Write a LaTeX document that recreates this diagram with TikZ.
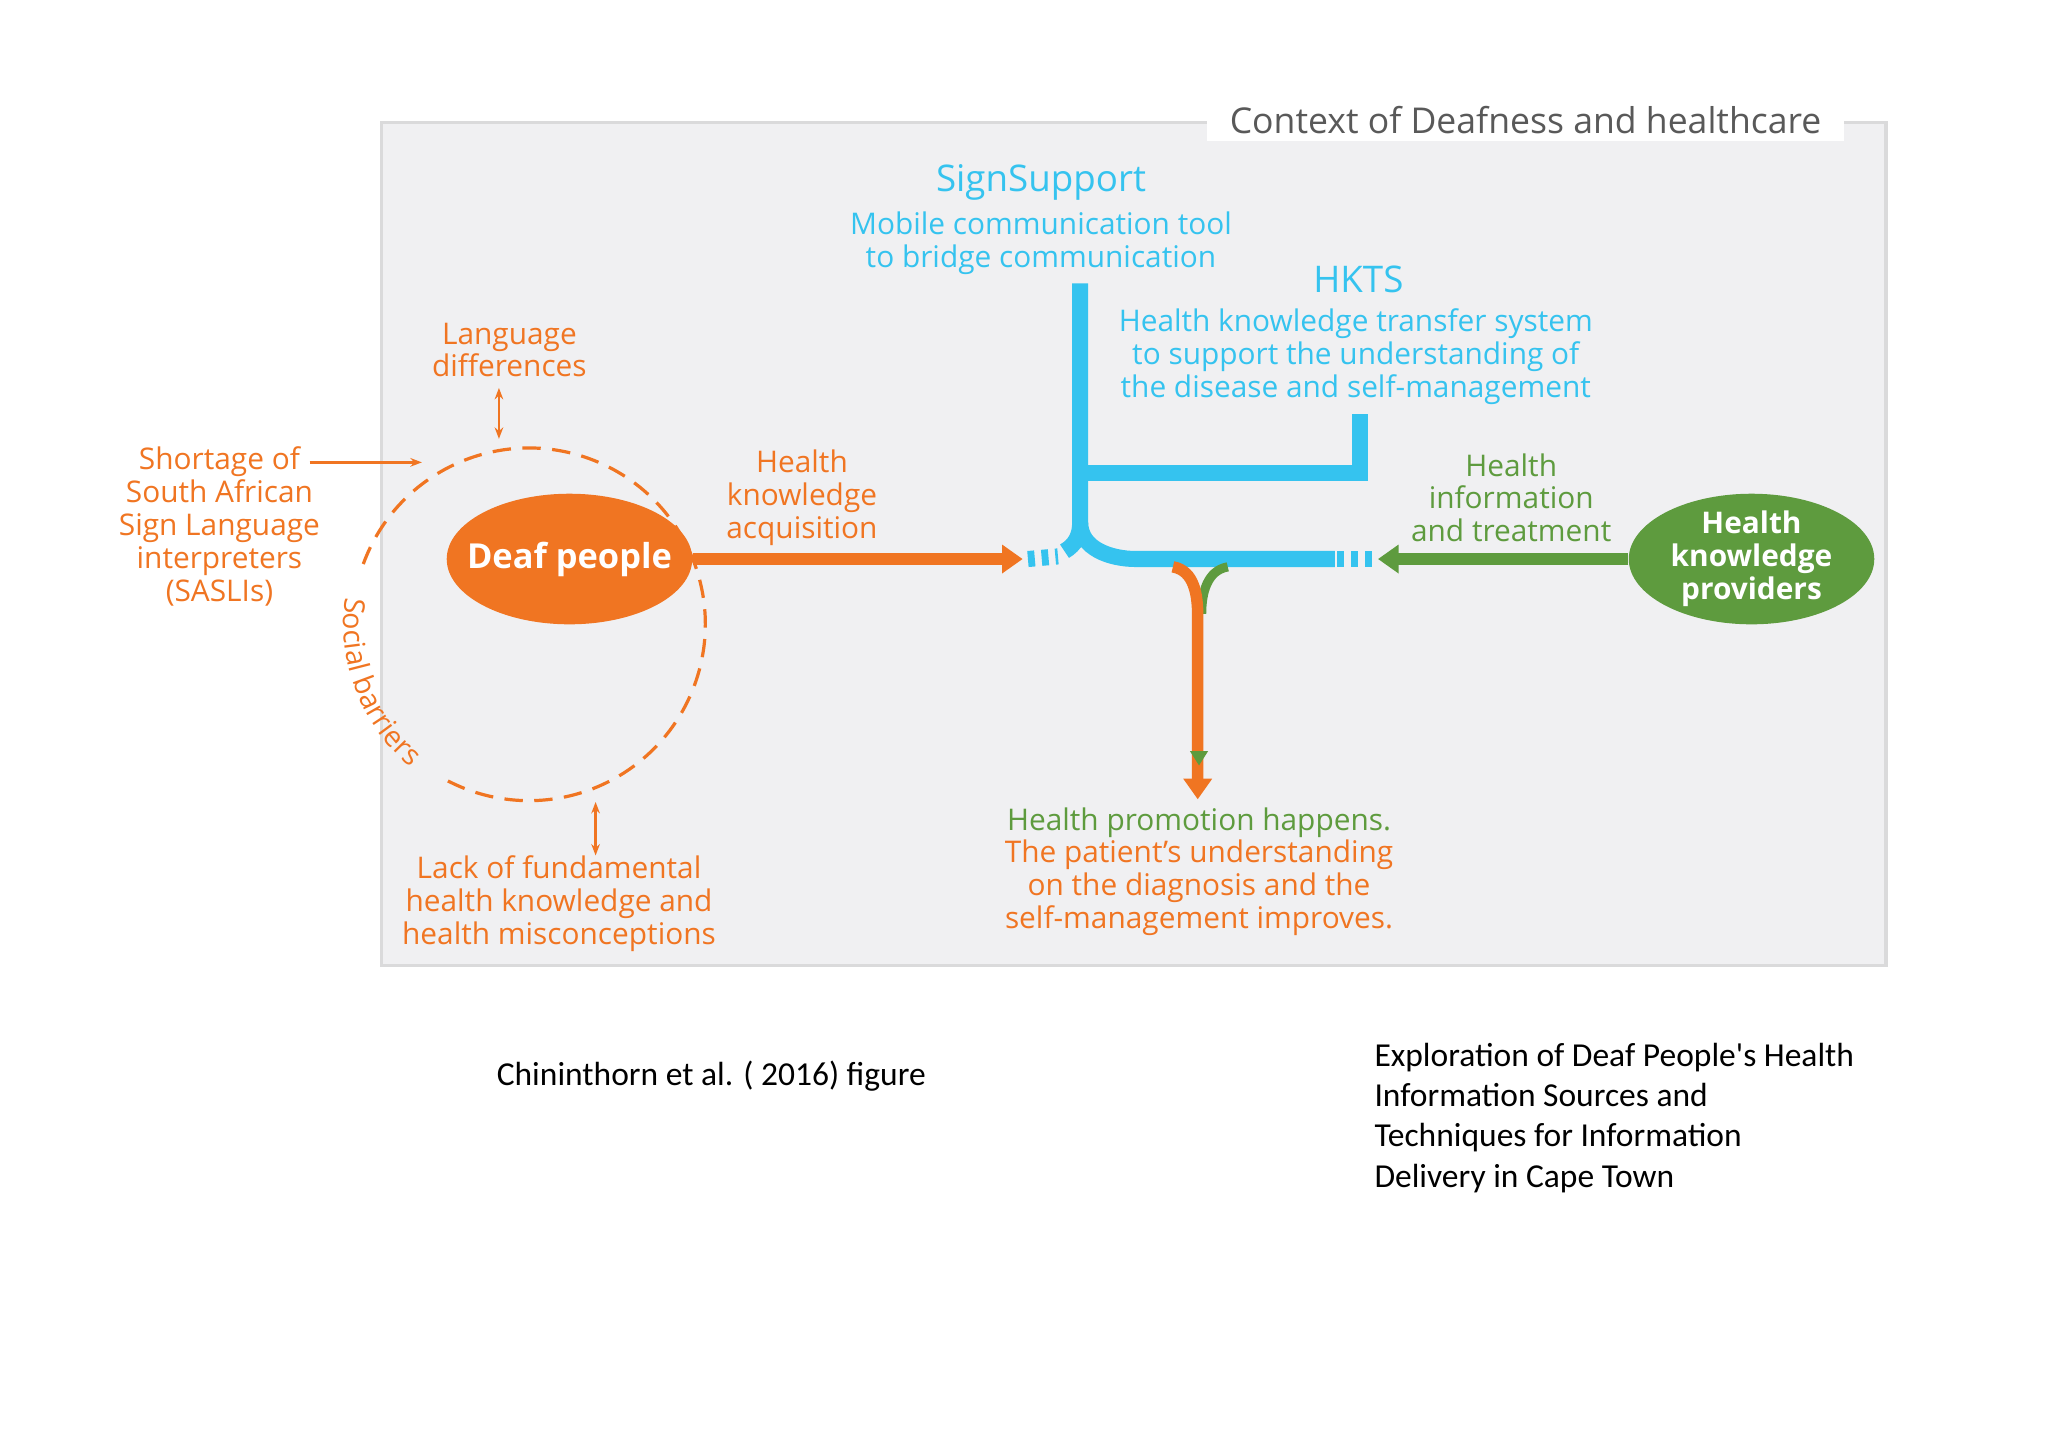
\documentclass[tikz,border=0pt]{standalone}
\usepackage{fontspec}
\setmainfont{Open Sans}
\newfontfamily\capfont{Carlito}
\usetikzlibrary{decorations.text,arrows.meta,shapes.geometric}
\definecolor{dorange}{HTML}{F07522}
\definecolor{dgreen}{HTML}{5E9B3E}
\definecolor{dcyan}{HTML}{35C3EF}
\definecolor{boxgray}{HTML}{F0F0F2}
\begin{document}
\begin{tikzpicture}[x=0.02cm,y=0.02cm,
  txt/.style={align=center,font=\fontsize{13}{14.3}\selectfont,inner sep=0pt},
  otxt/.style={txt,text=dorange},
  gtxt/.style={txt,text=dgreen},
  ctxt/.style={txt,text=dcyan},
  head/.style={ctxt,font=\fontsize{16}{18}\selectfont},
  blob/.style={ellipse,minimum width=3.76cm,minimum height=2cm,inner sep=0pt},
  blobtxt/.style={text=white,align=center,inner sep=0pt},
  small/.style={dorange,line width=1.2pt,{Stealth[length=5pt]}-{Stealth[length=5pt]}},
  captxt/.style={align=left,font=\capfont\fontsize{14.6}{17.6}\selectfont,inner sep=0pt,anchor=west}]
\useasboundingbox (0,0) rectangle (1568,-1108);
\fill[white] (0,0) rectangle (1568,-1108);
\draw[boxgray!80!gray,fill=boxgray,line width=1.5pt] (292,-94) rectangle (1444,-739);
\node[txt,fill=white,inner xsep=10pt,inner ysep=3pt,text=black!65,font=\fontsize{15.5}{18}\selectfont] (title) at (1168,-92) {Context of Deafness and healthcare};

% headings
\node[head] (ss) at (797,-140) {SignSupport};
\node[ctxt] (ssd) at (797,-186) {Mobile communication tool\\to bridge communication};
\node[head] (hk) at (1040,-214) {HKTS};
\node[ctxt] (hkd) at (1038,-273) {Health knowledge transfer system\\to support the understanding of\\the disease and self-management};

% ellipses
\node[blob,fill=dorange] (deaf) at (436,-428) {};
\node[blobtxt,font=\bfseries\fontsize{15}{17}\selectfont] (deaft) at (deaf) {Deaf people};
\node[blob,fill=dgreen] (prov) at (1341,-428) {};
\node[blobtxt,font=\bfseries\fontsize{13}{14.3}\selectfont] (provt) at (prov) {Health\\knowledge\\providers};

% junction coordinates
\coordinate (inL) at (783,-428);
\coordinate (inR) at (1055,-428);
\coordinate (top) at (827,-217);
\coordinate (down) at (917,-612);

% cyan structure
\draw[dcyan,line width=7pt] (top) -- (827,-400) to[out=-90,in=180] (870,-428) -- (1022,-428);
\draw[dcyan,line width=7pt] (827,-400) to[out=-90,in=30] (815,-422);
\draw[dcyan,line width=7pt] (827,-362) -- (1045,-362);
\draw[dcyan,line width=7pt] (1041,-317) -- (1041,-368);
\draw[dcyan,line width=7pt,dash pattern=on 3pt off 3pt] (787,-428) -- (810,-426);
\draw[dcyan,line width=7pt,dash pattern=on 3pt off 3pt] (1024,-428) -- (1053,-428);

% arrows
\draw[dorange,line width=5pt,-{Triangle[length=9pt,width=12pt]}] (deaf) -- (inL);
\draw[dgreen,line width=5pt,-{Triangle[length=9pt,width=12pt]}] (prov) -- (inR);
\draw[dgreen,line width=4pt] (940,-434) to[out=190,in=90] (920,-470);
\draw[dorange,line width=5pt,-{Triangle[length=9pt,width=12pt]}] (898,-434) to[out=-10,in=90] (917,-472) -- (down);
\fill[dgreen] (911,-575) -- (925,-575) -- (918,-586) -- cycle;

% social barriers circle
\coordinate (cc) at (405,-478);
\draw[dorange,line width=1.4pt,dash pattern=on 8pt off 5pt] ([shift={(160:135)}]cc) arc[start angle=160,end angle=-120,radius=135];
\path[decorate,decoration={text along path,text={|\fontsize{12.5}{14}\selectfont\color{dorange}|Social barriers},text align=center}] ([shift={(160:142)}]cc) arc[start angle=160,end angle=242,radius=142];

% side labels
\node[otxt] (lang) at (390,-268) {Language\\differences};
\node[otxt] (short) at (168,-403) {Shortage of\\South African\\Sign Language\\interpreters\\(SASLIs)};
\node[otxt] (lack) at (428,-692) {Lack of fundamental\\health knowledge and\\health misconceptions};
\node[otxt] (acq) at (614,-381) {Health\\knowledge\\acquisition};
\node[gtxt] (info) at (1157,-381) {Health\\information\\and treatment};
\node[gtxt,anchor=north] (prom) at (918,-618) {Health promotion happens.};
\node[otxt,anchor=north] (und) at (918,-643) {The patient's understanding\\on the diagnosis and the\\self-management improves.};

\coordinate (langA) at (382,-297);
\coordinate (langB) at (382,-336);
\coordinate (lackA) at (456,-614);
\coordinate (lackB) at (456,-655);
\coordinate (shA) at (323,-354);
\draw[small] (langA) -- (langB);
\draw[small] (lackA) -- (lackB);
\draw[dorange,line width=1.2pt,-{Stealth[length=5pt]}] (237,-354) -- (shA);

% captions
\node[captxt] (c1) at (380,-824) {Chininthorn et al. ( 2016) figure};
\node[captxt,anchor=north west] (c2) at (1052,-798) {Exploration of Deaf People's Health\\Information Sources and\\Techniques for Information\\Delivery in Cape Town};
\end{tikzpicture}
\end{document}
